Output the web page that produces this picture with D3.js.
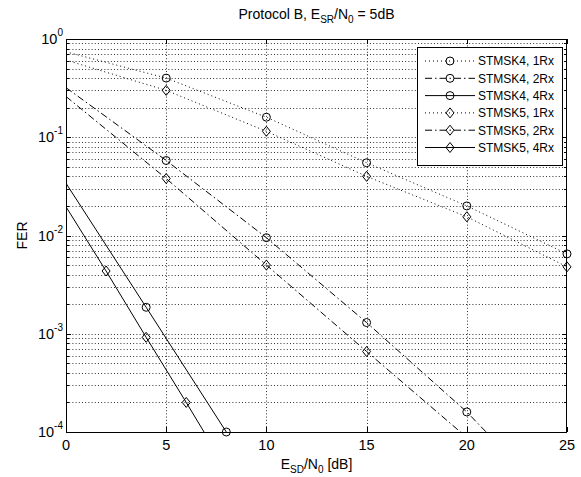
<!DOCTYPE html>
<html>
<head>
<meta charset="utf-8">
<script src="https://cdn.jsdelivr.net/npm/d3@7"></script>
<style>
  html, body { margin: 0; padding: 0; background: #fff; }
  svg { display: block; }
  text { font-family: "Liberation Sans", Arial, Helvetica, sans-serif; fill: #000; }
</style>
</head>
<body>
<svg id="chart" width="581" height="477"></svg>
<script>
// ---- data ----
const xTicks = [0, 5, 10, 15, 20, 25];
const yTickExps = [0, -1, -2, -3, -4];

const seriesNames = ["STMSK4, 1Rx", "STMSK4, 2Rx", "STMSK4, 4Rx", "STMSK5, 1Rx", "STMSK5, 2Rx", "STMSK5, 4Rx"];

const x1Rx = [0, 5, 10, 15, 20, 25];
const stmsk4_1Rx = [0.74, 0.40, 0.16, 0.055, 0.020, 0.0065];
const stmsk5_1Rx = [0.61, 0.30, 0.115, 0.040, 0.0155, 0.0048];

const x2Rx = [0, 5, 10, 15, 20, 25];
const stmsk4_2Rx = [0.32, 0.058, 0.0095, 0.0013, 0.00016, 0.000014];
const stmsk5_2Rx = [0.26, 0.038, 0.005, 0.00066, 0.000088, 0.0000115];

const x4Rx_stmsk4 = [0, 4, 8];
const stmsk4_4Rx = [0.034, 0.00186, 0.0001];
const x4Rx_stmsk5 = [0, 2, 4, 6, 8];
const stmsk5_4Rx = [0.0196, 0.00435, 0.00092, 0.0002, 0.000042];

// ---- chart ----
const svg = d3.select("#chart");
const L = 66, R = 567, T = 39, B = 432;
const x = d3.scaleLinear().domain([0, 25]).range([L, R]);
const y = d3.scaleLog().domain([1e-4, 1]).range([B, T]);

const styles = {
  "1Rx": "1,3",
  "2Rx": "7,3,1.5,3",
  "4Rx": null
};

const series = [
  { name: seriesNames[0], xs: x1Rx, ys: stmsk4_1Rx, marker: "circle", dash: styles["1Rx"] },
  { name: seriesNames[1], xs: x2Rx, ys: stmsk4_2Rx, marker: "circle", dash: styles["2Rx"] },
  { name: seriesNames[2], xs: x4Rx_stmsk4, ys: stmsk4_4Rx, marker: "circle", dash: styles["4Rx"] },
  { name: seriesNames[3], xs: x1Rx, ys: stmsk5_1Rx, marker: "diamond", dash: styles["1Rx"] },
  { name: seriesNames[4], xs: x2Rx, ys: stmsk5_2Rx, marker: "diamond", dash: styles["2Rx"] },
  { name: seriesNames[5], xs: x4Rx_stmsk5, ys: stmsk5_4Rx, marker: "diamond", dash: styles["4Rx"] }
];

svg.append("defs").append("clipPath").attr("id", "plotClip")
  .append("rect").attr("x", L).attr("y", T).attr("width", R - L).attr("height", B - T);

// grid
const grid = svg.append("g").attr("stroke", "#333").attr("stroke-width", 1).attr("stroke-dasharray", "1,2.2");
xTicks.filter(v => v > 0 && v < 25).forEach(v => {
  const px = Math.round(x(v)) + 0.5;
  grid.append("line").attr("x1", px).attr("x2", px).attr("y1", T).attr("y2", B);
});
const yMinor = [];
for (let e = -4; e < 0; e++) for (let k = 1; k <= 9; k++) yMinor.push(k * Math.pow(10, e));
yMinor.filter(v => v > 1e-4 * 1.0001).forEach(v => {
  const py = Math.round(y(v)) + 0.5;
  grid.append("line").attr("x1", L).attr("x2", R).attr("y1", py).attr("y2", py);
});

// ticks
const ticks = svg.append("g").attr("stroke", "#000").attr("stroke-width", 1);
xTicks.forEach(v => {
  const px = Math.round(x(v)) + 0.5;
  ticks.append("line").attr("x1", px).attr("x2", px).attr("y1", B).attr("y2", B - 5);
  ticks.append("line").attr("x1", px).attr("x2", px).attr("y1", T).attr("y2", T + 5);
});
yMinor.concat([1]).forEach(v => {
  const py = Math.round(y(v)) + 0.5;
  const major = Math.abs(Math.log10(v) - Math.round(Math.log10(v))) < 1e-9;
  const len = major ? 5 : 3;
  ticks.append("line").attr("x1", L).attr("x2", L + len).attr("y1", py).attr("y2", py);
  ticks.append("line").attr("x1", R).attr("x2", R - len).attr("y1", py).attr("y2", py);
});

// lines
const line = d3.line().x((d) => x(d[0])).y((d) => y(d[1]));
const plot = svg.append("g").attr("clip-path", "url(#plotClip)");
series.forEach(s => {
  const pts = s.xs.map((xv, i) => [xv, s.ys[i]]);
  plot.append("path").attr("d", line(pts)).attr("fill", "none")
    .attr("stroke", "#000").attr("stroke-width", 1)
    .attr("stroke-dasharray", s.dash);
});

function drawMarker(g, type, cx, cy) {
  if (type === "circle") {
    g.append("circle").attr("cx", cx).attr("cy", cy).attr("r", 4)
      .attr("fill", "none").attr("stroke", "#000").attr("stroke-width", 1);
  } else {
    g.append("path").attr("d", `M${cx},${cy - 5}L${cx + 4},${cy}L${cx},${cy + 5}L${cx - 4},${cy}Z`)
      .attr("fill", "none").attr("stroke", "#000").attr("stroke-width", 1);
  }
}
const markers = svg.append("g");
series.forEach(s => {
  s.xs.forEach((xv, i) => {
    const v = s.ys[i];
    if (xv > 0 && v >= 1e-4 * 0.999) drawMarker(markers, s.marker, x(xv), y(v));
  });
});

// axes box
svg.append("rect").attr("x", L + 0.5).attr("y", T + 0.5).attr("width", R - L - 1).attr("height", B - T)
  .attr("fill", "none").attr("stroke", "#000").attr("stroke-width", 1);

// tick labels
xTicks.forEach(v => {
  svg.append("text").attr("x", x(v)).attr("y", B + 18).attr("text-anchor", "middle")
    .attr("font-size", 14.5).text(v);
});
yTickExps.forEach(e => {
  const t = svg.append("text").attr("x", 63).attr("y", y(Math.pow(10, e)) + 5)
    .attr("text-anchor", "end").attr("font-size", 14.5);
  t.append("tspan").text("10");
  t.append("tspan").attr("dy", -8).attr("font-size", 10).text(String(e));
});

// title
const title = svg.append("text").attr("x", (L + R) / 2).attr("y", 19).attr("text-anchor", "middle").attr("font-size", 14);
title.append("tspan").text("Protocol B, E");
title.append("tspan").attr("dy", 4).attr("font-size", 10).text("SR");
title.append("tspan").attr("dy", -4).text("/N");
title.append("tspan").attr("dy", 4).attr("font-size", 10).text("0");
title.append("tspan").attr("dy", -4).text(" = 5dB");

// x label
const xl = svg.append("text").attr("x", (L + R) / 2).attr("y", 469).attr("text-anchor", "middle").attr("font-size", 14);
xl.append("tspan").text("E");
xl.append("tspan").attr("dy", 4).attr("font-size", 10).text("SD");
xl.append("tspan").attr("dy", -4).text("/N");
xl.append("tspan").attr("dy", 4).attr("font-size", 10).text("0");
xl.append("tspan").attr("dy", -4).text(" [dB]");

// y label
svg.append("text").attr("transform", `translate(27,${(T + B) / 2}) rotate(-90)`)
  .attr("text-anchor", "middle").attr("font-size", 14).text("FER");

// legend
const lg = svg.append("g");
const lx = 417, ly = 47, lw = 145, lh = 118;
lg.append("rect").attr("x", lx + 0.5).attr("y", ly + 0.5).attr("width", lw).attr("height", lh)
  .attr("fill", "#fff").attr("stroke", "#000").attr("stroke-width", 1);
series.forEach((s, i) => {
  const ry = ly + 14 + i * 17.3;
  lg.append("line").attr("x1", lx + 8).attr("x2", lx + 58).attr("y1", ry).attr("y2", ry)
    .attr("stroke", "#000").attr("stroke-width", 1).attr("stroke-dasharray", s.dash);
  drawMarker(lg, s.marker, lx + 33, ry);
  lg.append("text").attr("x", lx + 61).attr("y", ry + 4.3).attr("font-size", 12).text(s.name);
});
</script>
</body>
</html>
